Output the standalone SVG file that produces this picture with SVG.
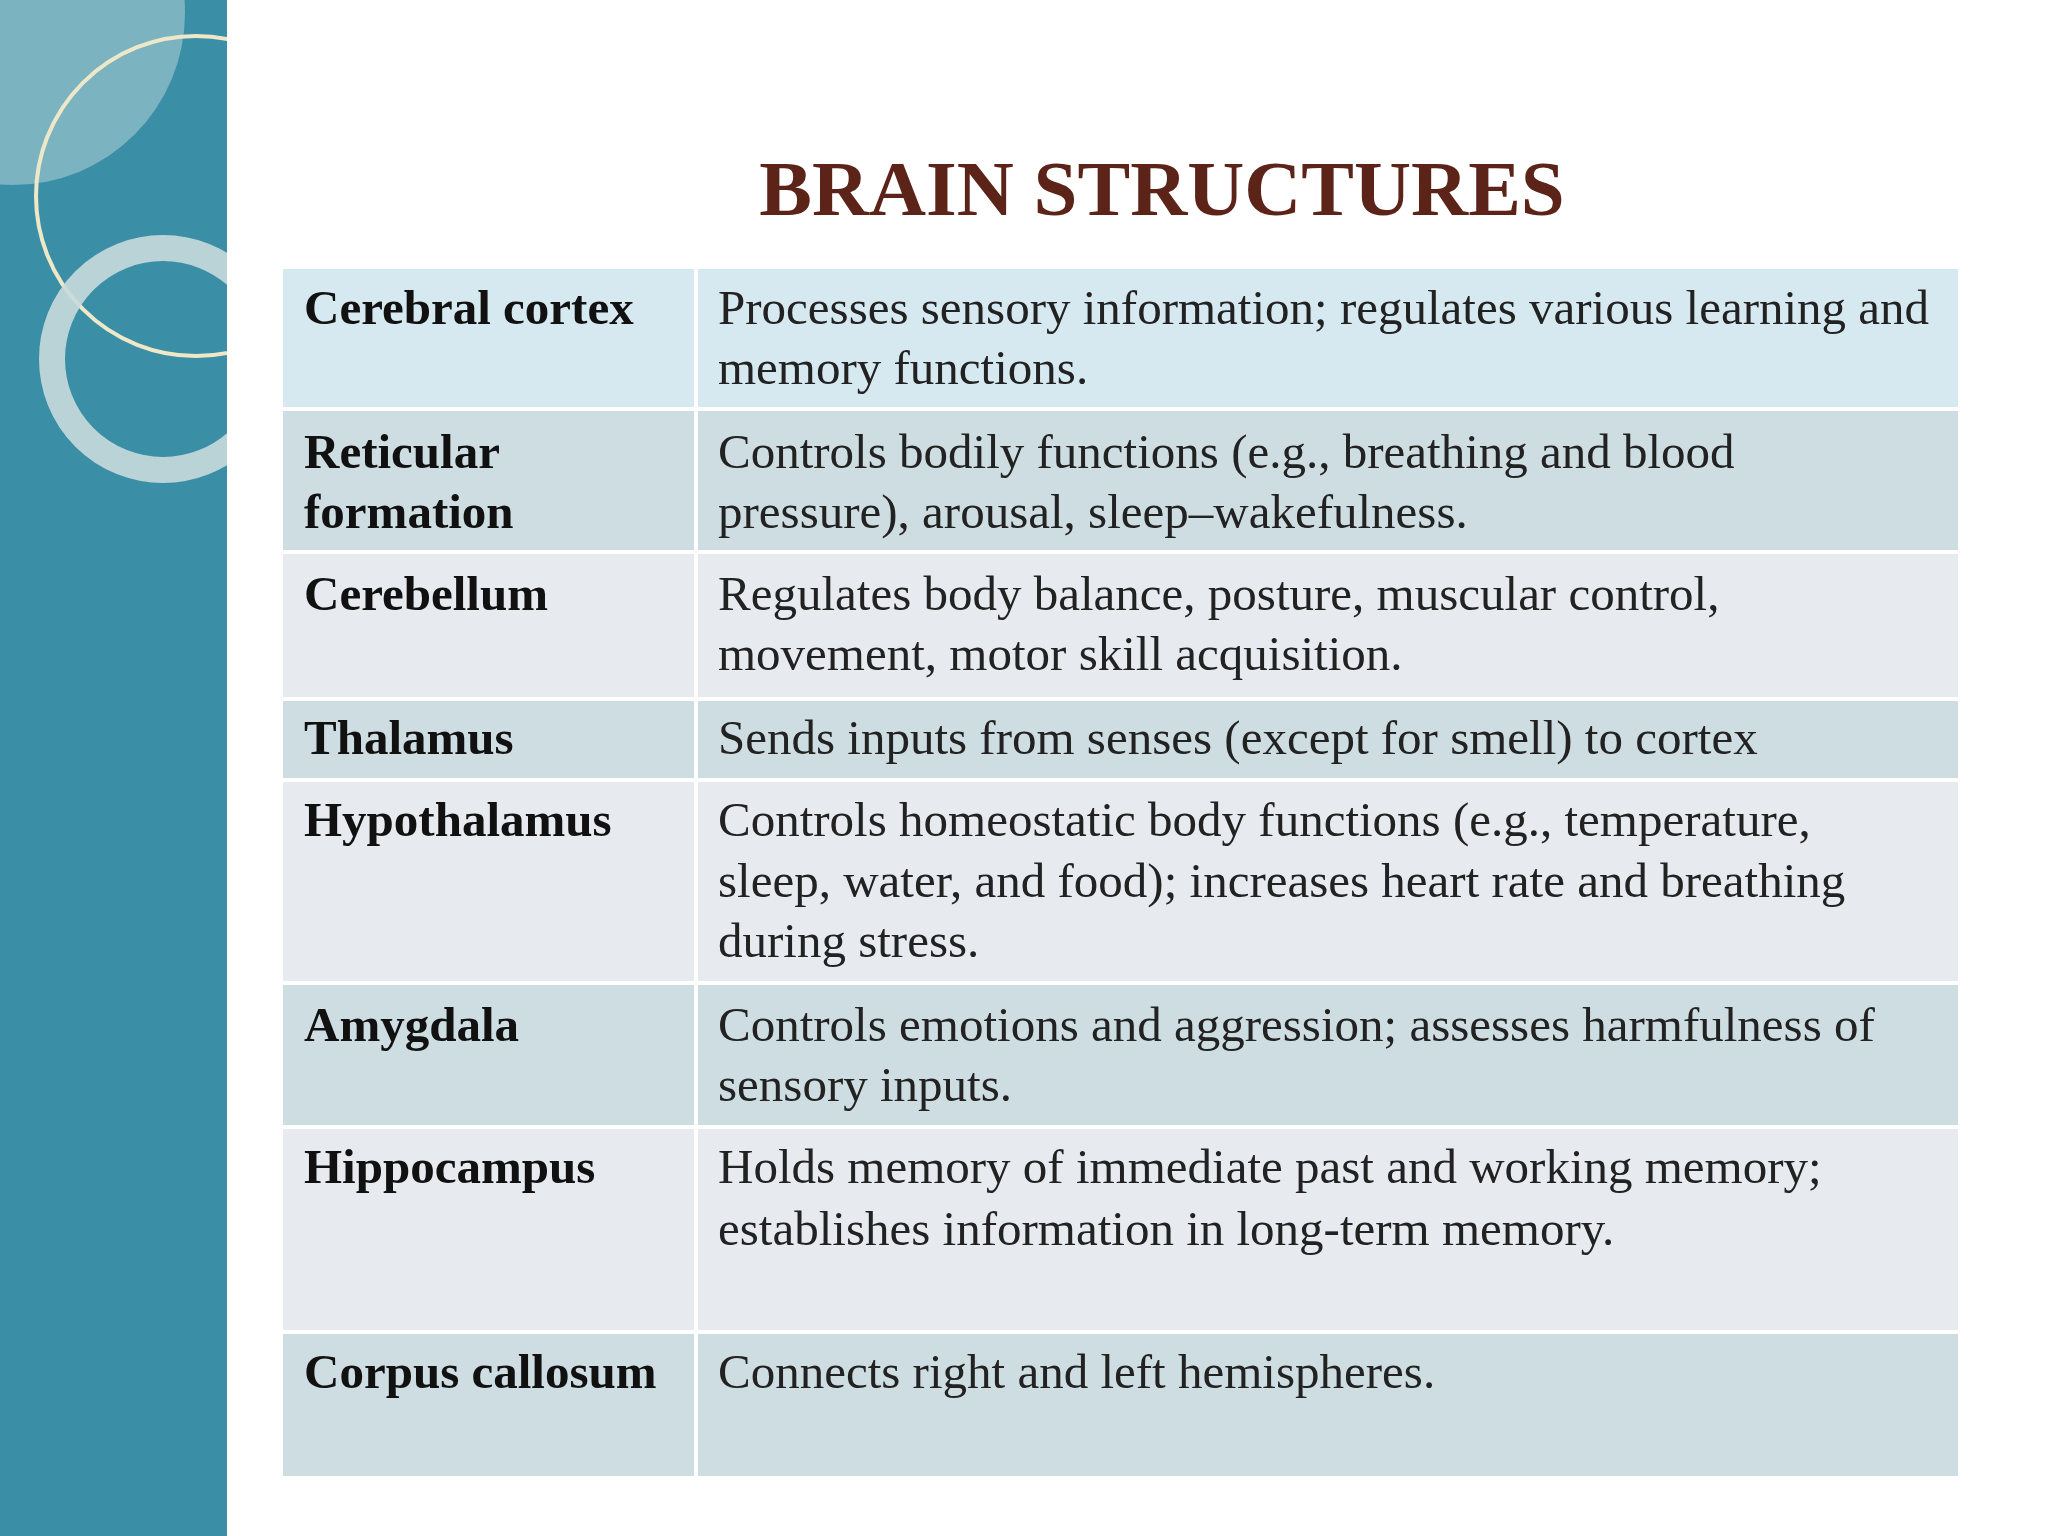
<svg xmlns="http://www.w3.org/2000/svg" width="2048" height="1536" viewBox="0 0 2048 1536">
<style>
.h{font-family:"Liberation Serif",serif;font-weight:bold;font-size:49px;fill:#111}
.d{font-family:"Liberation Serif",serif;font-size:49px;fill:#222}
.a{fill:#cedde2}.b{fill:#e7ebf0}
</style>
<rect width="2048" height="1536" fill="#fff"/>
<g id="sidebar">
<rect x="0" y="0" width="227" height="1536" fill="#3a8fa6"/>
<clipPath id="c"><rect x="0" y="0" width="227" height="1536"/></clipPath>
<g clip-path="url(#c)">
<circle cx="13" cy="13" r="172" fill="#7cb3c1"/>
<circle cx="196" cy="196" r="160" fill="none" stroke="#efe8c8" stroke-width="4"/>
<circle cx="163" cy="359" r="111" fill="none" stroke="#c9dadc" stroke-width="26" opacity="0.9"/>
</g>
</g>
<text x="1162" y="215" text-anchor="middle" font-family="Liberation Serif,serif" font-weight="bold" font-size="79" fill="#5c2318">BRAIN STRUCTURES</text>
<g id="table">
<rect x="283" y="269" width="1675" height="140" fill="#d7e9f0"/>
<rect x="283" y="409" width="1675" height="143" class="a"/>
<rect x="283" y="552" width="1675" height="147" class="b"/>
<rect x="283" y="699" width="1675" height="81" class="a"/>
<rect x="283" y="780" width="1675" height="203" class="b"/>
<rect x="283" y="983" width="1675" height="144" class="a"/>
<rect x="283" y="1127" width="1675" height="205" class="b"/>
<rect x="283" y="1332" width="1675" height="144" class="a"/>
<g stroke="#fff" stroke-width="4">
<line x1="696" y1="269" x2="696" y2="1476"/>
<line x1="283" y1="409" x2="1958" y2="409"/><line x1="283" y1="552" x2="1958" y2="552"/>
<line x1="283" y1="699" x2="1958" y2="699"/><line x1="283" y1="780" x2="1958" y2="780"/>
<line x1="283" y1="983" x2="1958" y2="983"/><line x1="283" y1="1127" x2="1958" y2="1127"/>
<line x1="283" y1="1332" x2="1958" y2="1332"/>
</g>
</g>
<g id="rows">
<text class="h" x="304" y="324">Cerebral cortex</text>
<text class="d" x="718" y="324">Processes sensory information; regulates various learning and</text>
<text class="d" x="718" y="384">memory functions.</text>
<text class="h" x="304" y="468">Reticular</text><text class="h" x="304" y="528">formation</text>
<text class="d" x="718" y="468">Controls bodily functions (e.g., breathing and blood</text>
<text class="d" x="718" y="528">pressure), arousal, sleep–wakefulness.</text>
<text class="h" x="304" y="610">Cerebellum</text>
<text class="d" x="718" y="610">Regulates body balance, posture, muscular control,</text>
<text class="d" x="718" y="670">movement, motor skill acquisition.</text>
<text class="h" x="304" y="754">Thalamus</text>
<text class="d" x="718" y="754">Sends inputs from senses (except for smell) to cortex</text>
<text class="h" x="304" y="836">Hypothalamus</text>
<text class="d" x="718" y="836">Controls homeostatic body functions (e.g., temperature,</text>
<text class="d" x="718" y="897">sleep, water, and food); increases heart rate and breathing</text>
<text class="d" x="718" y="957">during stress.</text>
<text class="h" x="304" y="1041">Amygdala</text>
<text class="d" x="718" y="1041">Controls emotions and aggression; assesses harmfulness of</text>
<text class="d" x="718" y="1101">sensory inputs.</text>
<text class="h" x="304" y="1183">Hippocampus</text>
<text class="d" x="718" y="1183">Holds memory of immediate past and working memory;</text>
<text class="d" x="718" y="1245">establishes information in long-term memory.</text>
<text class="h" x="304" y="1388">Corpus callosum</text>
<text class="d" x="718" y="1388">Connects right and left hemispheres.</text>
</g>
</svg>
